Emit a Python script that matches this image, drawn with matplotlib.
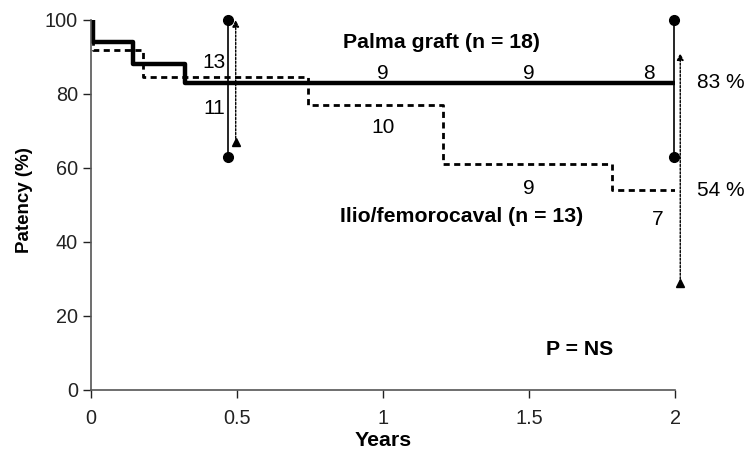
import matplotlib.pyplot as plt

plt.rcParams['font.family'] = ['Liberation Sans', 'DejaVu Sans']

# Kaplan-Meier step data (years, patency %)
palma_t = [0, 0.005, 0.144, 0.322, 2.0]
palma_p = [100, 94, 88, 83, 83]
ilio_t = [0, 0.005, 0.176, 0.741, 1.203, 1.785, 2.0]
ilio_p = [100, 92, 84.5, 77, 61, 54, 54]

# confidence bars: (x, low, high)
palma_ci = [(0.467, 63, 100), (1.997, 63, 100)]
ilio_ci = [(0.495, 67, 100), (2.017, 29, 91)]

# numbers at risk: (x, y, text)
palma_risk = [(0.42, 88.5, '13'), (1.0, 85.5, '9'), (1.5, 85.5, '9'), (1.91, 85.5, '8')]
ilio_risk = [(0.42, 76, '11'), (1.0, 71, '10'), (1.5, 54.5, '9'), (1.94, 46, '7')]

fig = plt.figure(figsize=(7.47, 4.54), dpi=100)
ax = fig.add_axes([0.122, 0.141, 0.782, 0.815])

ax.step(palma_t, palma_p, where='post', color='black', lw=3.2, solid_capstyle='butt')
ax.step(ilio_t, ilio_p, where='post', color='black', lw=2.0, ls=(0, (2.2, 1.6)))

for x, lo, hi in palma_ci:
    ax.plot([x, x], [lo, hi], color='black', lw=1.2, clip_on=False)
    ax.plot([x, x], [lo, hi], 'o', color='black', ms=7, clip_on=False)

for x, lo, hi in ilio_ci:
    ax.annotate('', xy=(x, hi), xytext=(x, lo),
                arrowprops=dict(arrowstyle='-|>', color='black', lw=1.0,
                                ls=(0, (1.5, 1.2)), mutation_scale=10,
                                shrinkA=0, shrinkB=0),
                annotation_clip=False)
    ax.plot([x], [lo], '^', color='black', ms=6, clip_on=False)

for x, y, s in palma_risk + ilio_risk:
    ax.text(x, y, s, fontsize=15, ha='center', va='center')

ax.text(1.2, 93.8, 'Palma graft (n = 18)', fontsize=15.3, fontweight='bold',
        ha='center', va='center')
ax.text(1.269, 46.8, 'Ilio/femorocaval (n = 13)', fontsize=15.3, fontweight='bold',
        ha='center', va='center')
ax.text(1.671, 10.9, 'P = NS', fontsize=15.3, fontweight='bold',
        ha='center', va='center')
ax.text(2.075, palma_p[-1], '83 %', fontsize=15, ha='left', va='center', clip_on=False)
ax.text(2.075, ilio_p[-1], '54 %', fontsize=15, ha='left', va='center', clip_on=False)

ax.set_xlim(0, 2)
ax.set_ylim(0, 100)
ax.set_xticks([0, 0.5, 1, 1.5, 2])
ax.set_xticklabels(['0', '0.5', '1', '1.5', '2'])
ax.set_yticks([0, 20, 40, 60, 80, 100])
ax.tick_params(direction='out', length=6, width=1, labelsize=14.3, colors='#222222')
ax.tick_params(axis='x', pad=8)
for side in ['top', 'right']:
    ax.spines[side].set_visible(False)
for side in ['left', 'bottom']:
    ax.spines[side].set_color('#555555')
    ax.spines[side].set_linewidth(1.2)

ax.set_xlabel('Years', fontsize=15.3, fontweight='bold', labelpad=2)
ax.set_ylabel('Patency (%)', fontsize=13.5, fontweight='bold')
ax.yaxis.set_label_coords(-0.099, 0.514)

fig.savefig('out.png', dpi=100)
